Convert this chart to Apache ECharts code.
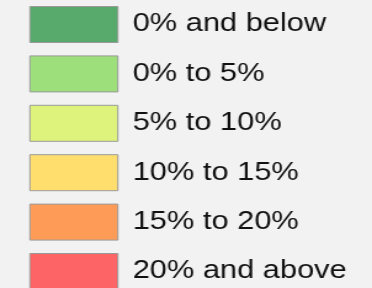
<!DOCTYPE html>
<html>
<head>
<meta charset="utf-8">
<script src="https://cdn.jsdelivr.net/npm/echarts@6/dist/echarts.min.js"></script>
<style>
  html, body { margin: 0; padding: 0; background: #f2f2f2; overflow: hidden; }
  /* the reference is stretched sideways, so the chart is drawn narrow and widened */
  #chart { width: 302px; height: 288px; transform: scaleX(1.2318); transform-origin: 0 0; }
</style>
</head>
<body>
<div id="chart"></div>
<script>
const categories = ["0% and below", "0% to 5%", "5% to 10%", "10% to 15%", "15% to 20%", "20% and above"];
const colors = ["#58aa6c", "#9ddf7a", "#def37b", "#ffde6e", "#fe9c57", "#fd6466"];

let myChart = echarts.init(document.getElementById("chart"));

let series = categories.map(function(name, i) {
  return {
    name: name,
    type: "bar",
    data: [],
    itemStyle: { color: colors[i] }
  };
});

let option = {
  backgroundColor: "#f2f2f2",
  animation: false,
  xAxis: { show: false, type: "category", data: [] },
  yAxis: { show: false, type: "value" },
  grid: { left: 0, right: 0, top: 0, bottom: 0 },
  legend: {
    orient: "vertical",
    left: 23.8,
    top: 6,
    height: 400,
    padding: 0,
    icon: "rect",
    itemWidth: 71.4,
    itemHeight: 36,
    itemGap: 12.4,
    selectedMode: false,
    itemStyle: { borderColor: "#9a9a9a", borderWidth: 1 },
    textStyle: {
      color: "#111",
      fontSize: 25,
      fontFamily: "Liberation Sans",
      padding: [0, 0, 0, 7]
    },
    data: categories
  },
  series: series
};
myChart.setOption(option);
</script>
</body>
</html>
